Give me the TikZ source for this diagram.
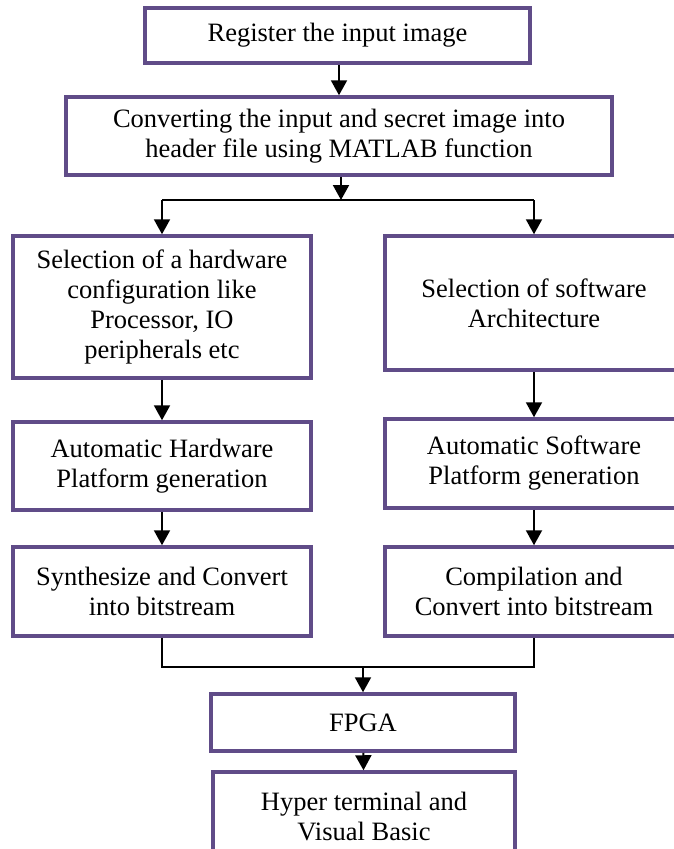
\documentclass[tikz,border=0pt]{standalone}
\usepackage{fontspec}
\setmainfont{Liberation Serif}
\usetikzlibrary{arrows.meta}
\definecolor{boxpurple}{RGB}{96,76,136}
\tikzset{
	box/.style={draw=boxpurple, line width=3.5pt, align=center, inner sep=0pt, font=\fontsize{26.5}{30}\selectfont},
	arr/.style={line width=2pt, -{Triangle[width=16pt,length=15pt]}},
	link/.style={line width=2pt}
}
\begin{document}
\begin{tikzpicture}[x=1pt, y=-1pt]
	\useasboundingbox (0,0) rectangle (674,849);
	\clip (0,0) rectangle (674,849);
	\node[box, minimum width=385pt, minimum height=55pt] (reg) at (337.5,35.5) {Register the input image};
	\node[box, minimum width=546pt, minimum height=78pt] (conv) at (339,136) {Converting the input and secret image into\\header file using MATLAB function};
	\node[box, minimum width=298pt, minimum height=142pt] (hwsel) at (162,307) {Selection of a hardware\\configuration like\\Processor, IO\\peripherals etc};
	\node[box, minimum width=298pt, minimum height=134pt] (swsel) at (534,303) {Selection of software\\Architecture};
	\node[box, minimum width=298pt, minimum height=88pt] (hwgen) at (162,466) {Automatic Hardware\\Platform generation};
	\node[box, minimum width=298pt, minimum height=89pt] (swgen) at (534,463.5) {Automatic Software\\Platform generation};
	\node[box, minimum width=298pt, minimum height=89pt] (hwsyn) at (162,591.5) {Synthesize and Convert\\into bitstream};
	\node[box, minimum width=298pt, minimum height=89pt] (swcomp) at (534,591.5) {Compilation and\\Convert into bitstream};
	\node[box, minimum width=304pt, minimum height=57pt] (fpga) at (363,722.5) {FPGA};
	\node[box, minimum width=302pt, minimum height=88pt] (hyper) at (364,816) {Hyper terminal and\\Visual Basic};
	\coordinate (split) at (341,200);
	\coordinate (merge) at (363,667);
	\draw[arr] (reg.south -| conv) -- (conv.north);
	\draw[arr] (conv.south -| split) -- (split);
	\draw[link] (split -| hwsel) -- (split -| swsel);
	\draw[arr] (split -| hwsel) -- (hwsel.north);
	\draw[arr] (split -| swsel) -- (swsel.north);
	\draw[arr] (hwsel) -- (hwgen);
	\draw[arr] (hwgen) -- (hwsyn);
	\draw[arr] (swsel) -- (swgen);
	\draw[arr] (swgen) -- (swcomp);
	\draw[link] (hwsyn.south) -- (hwsyn.south |- merge) -- (swcomp.south |- merge) -- (swcomp.south);
	\draw[arr] (merge) -- (fpga.north);
	\draw[arr] (fpga) -- (hyper);
\end{tikzpicture}
\end{document}
